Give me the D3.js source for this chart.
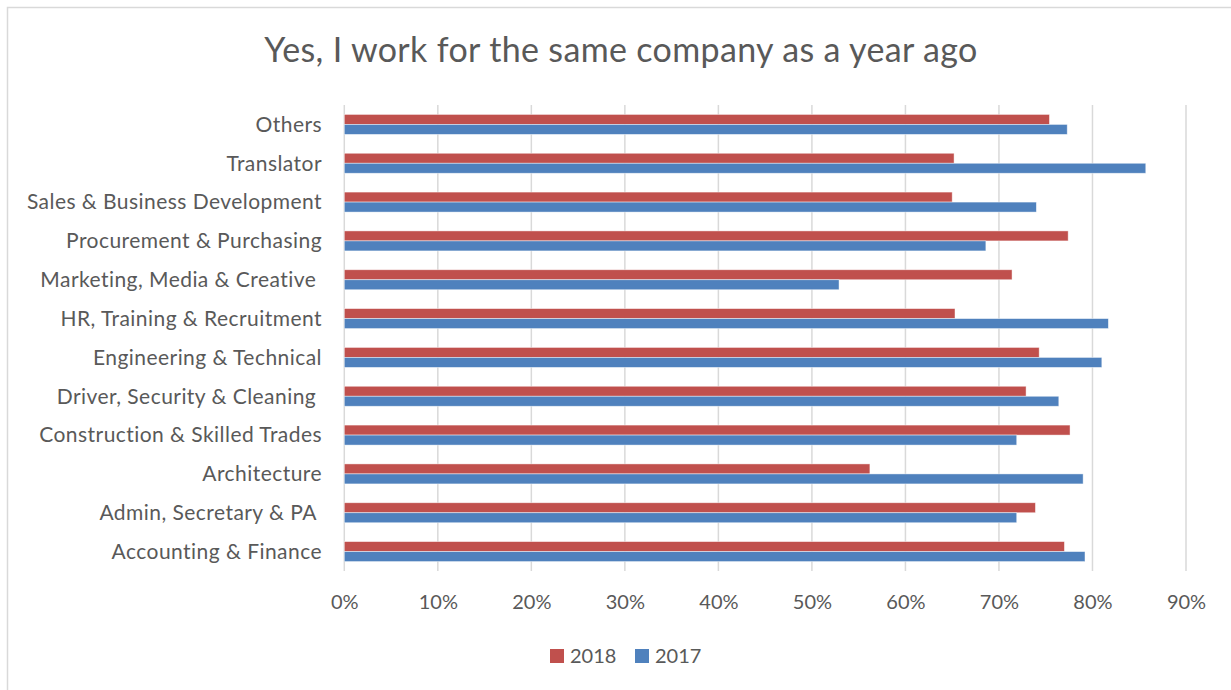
<!DOCTYPE html>
<html>
<head>
<meta charset="utf-8">
<script src="https://cdn.jsdelivr.net/npm/d3@7"></script>
<style>
  html, body { margin: 0; padding: 0; background: #fff; }
  svg { display: block; font-family: Lato, "Open Sans", sans-serif; }
</style>
</head>
<body>
<svg id="chart" width="1231" height="690"></svg>
<script>
// Job categories, listed top to bottom
const categories = [
  "Others",
  "Translator",
  "Sales & Business Development",
  "Procurement & Purchasing",
  "Marketing, Media & Creative ",
  "HR, Training & Recruitment",
  "Engineering & Technical",
  "Driver, Security & Cleaning ",
  "Construction & Skilled Trades",
  "Architecture",
  "Admin, Secretary & PA ",
  "Accounting & Finance"
];

// Share answering "yes", per year (fractions)
const values2018 = [0.754, 0.652, 0.650, 0.774, 0.714, 0.653, 0.743, 0.729, 0.776, 0.562, 0.739, 0.770];
const values2017 = [0.773, 0.857, 0.740, 0.686, 0.529, 0.817, 0.810, 0.764, 0.719, 0.790, 0.719, 0.792];

const seriesNames = ["2018", "2017"];
const seriesColors = ["#C0504D", "#4F81BD"];
const tickValues = [0, 0.1, 0.2, 0.3, 0.4, 0.5, 0.6, 0.7, 0.8, 0.9];

const titleText = "Yes, I work for the same company as a year ago";

const svg = d3.select("#chart");
const textColor = "#595959";
const fontStack = "Lato, 'Open Sans', sans-serif";

// chart frame
svg.append("rect")
  .attr("x", 7.5).attr("y", 7.5)
  .attr("width", 1240).attr("height", 700)
  .attr("fill", "#fff")
  .attr("stroke", "#d9d9d9")
  .attr("stroke-width", 1.5);

// title
svg.append("text")
  .attr("x", 621).attr("y", 62)
  .attr("text-anchor", "middle")
  .attr("font-size", 34)
  .attr("letter-spacing", 0.35)
  .attr("fill", textColor)
  .text(titleText);

const plot = { left: 344.3, right: 1186, top: 105, bottom: 571 };

const x = d3.scaleLinear().domain([0, 0.9]).range([plot.left, plot.right]);
const y = d3.scaleBand()
  .domain(categories)
  .range([plot.top, plot.bottom])
  .paddingInner(0.485)
  .paddingOuter(0.2425);
const ySub = d3.scaleBand().domain(seriesNames).range([0, y.bandwidth()]);

// vertical gridlines (including the value axis at 0%)
svg.append("g")
  .selectAll("line")
  .data(tickValues)
  .join("line")
  .attr("x1", d => x(d)).attr("x2", d => x(d))
  .attr("y1", plot.top).attr("y2", plot.bottom)
  .attr("stroke", "#d9d9d9")
  .attr("stroke-width", 1.5);

// value axis labels
const xAxis = d3.axisBottom(x)
  .tickValues(tickValues)
  .tickFormat(d3.format(".0%"))
  .tickSize(0)
  .tickPadding(0);
const gx = svg.append("g")
  .attr("transform", `translate(0, ${plot.bottom})`)
  .call(xAxis);
gx.select(".domain").remove();
gx.selectAll("text")
  .attr("y", 38)
  .attr("dy", null)
  .attr("font-size", 20)
  .attr("font-family", fontStack)
  .attr("fill", textColor);

// category labels
const yAxis = d3.axisLeft(y).tickSize(0).tickPadding(0);
const gy = svg.append("g")
  .attr("transform", `translate(322, 0)`)
  .call(yAxis);
gy.select(".domain").remove();
gy.selectAll("text")
  .attr("x", 0)
  .attr("dy", "0.35em")
  .attr("font-size", 21)
  .attr("letter-spacing", 0.45)
  .attr("font-family", fontStack)
  .attr("fill", textColor)
  .style("white-space", "pre");

// bars
const rows = categories.map((c, i) => ({
  category: c,
  values: [values2018[i], values2017[i]]
}));

const groups = svg.append("g")
  .selectAll("g")
  .data(rows)
  .join("g")
  .attr("transform", d => `translate(0, ${y(d.category)})`);

groups.selectAll("rect")
  .data(d => d.values.map((v, k) => ({ series: seriesNames[k], value: v, color: seriesColors[k] })))
  .join("rect")
  .attr("x", x(0))
  .attr("y", d => ySub(d.series))
  .attr("width", d => x(d.value) - x(0))
  .attr("height", ySub.bandwidth())
  .attr("fill", d => d.color)
  .attr("stroke", "#ffffff")
  .attr("stroke-opacity", 0.6)
  .attr("stroke-width", 0.75);

// legend
const legend = svg.append("g").attr("transform", "translate(550, 649)");
const legendOffsets = [0, 85];
seriesNames.forEach((name, k) => {
  const g = legend.append("g").attr("transform", `translate(${legendOffsets[k]}, 0)`);
  g.append("rect")
    .attr("width", 14).attr("height", 14)
    .attr("fill", seriesColors[k]);
  g.append("text")
    .attr("x", 20).attr("y", 14)
    .attr("font-size", 20)
    .attr("fill", textColor)
    .text(name);
});
</script>
</body>
</html>
